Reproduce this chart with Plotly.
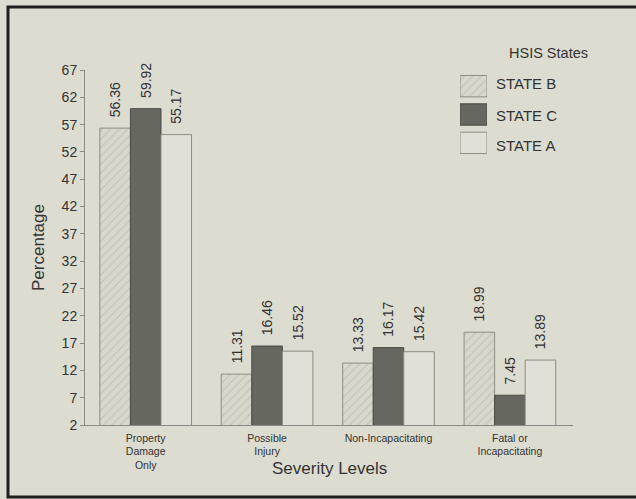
import plotly.graph_objects as go

# Crash severity distribution by state
categories = ["Property<br>Damage<br>Only", "Possible<br>Injury",
              "Non-Incapacitating", "Fatal or<br>Incapacitating"]
state_names = ["STATE B", "STATE C", "STATE A"]
state_b = [56.36, 11.31, 13.33, 18.99]
state_c = [59.92, 16.46, 16.17, 7.45]
state_a = [55.17, 15.52, 15.42, 13.89]
y_ticks = [2, 7, 12, 17, 22, 27, 32, 37, 42, 47, 52, 57, 62, 67]

BG = "#dddcd0"
TXT = "#333333"
FONT = "Liberation Sans, Arial, sans-serif"

styles = {
    "STATE B": dict(color="#d8d7cc", line=dict(color="#8e8d85", width=1),
                    pattern=dict(shape="/", fgcolor="#a9a89e", bgcolor="#d8d7cc",
                                 size=6, solidity=0.18)),
    "STATE C": dict(color="#66685f", line=dict(color="#4a4b45", width=1)),
    "STATE A": dict(color="#e1e0d6", line=dict(color="#8e8d85", width=1)),
}

fig = go.Figure()
for name, vals in zip(state_names, [state_b, state_c, state_a]):
    fig.add_trace(go.Bar(
        x=categories, y=vals, name=name, marker=styles[name],
        texttemplate="\u00a0\u00a0%{y:.2f}", textposition="outside",
        textangle=-90, constraintext="none",
        textfont=dict(size=14, color=TXT, family=FONT),
        cliponaxis=False, showlegend=False,
    ))

# Legend swatches on a small overlay axis
for name in state_names:
    fig.add_trace(go.Bar(
        x=[1], y=[name], orientation="h", marker=styles[name],
        xaxis="x2", yaxis="y2", showlegend=False, hoverinfo="skip",
    ))

W, H = 636, 499
L, R, T, B = 85, 63, 70, 74
pw, ph = W - L - R, H - T - B


def px_x(x):
    return (x - L) / pw


def px_y(y):
    return (H - B - y) / ph


annotations = [
    dict(text="HSIS States", x=548, y=53, font=dict(size=14.5)),
    dict(text="Severity Levels", x=329, y=468, font=dict(size=17)),
]
for name, yy in zip(state_names, [84, 115, 145]):
    annotations.append(dict(text=name, x=494, y=yy, xanchor="left",
                            font=dict(size=15)))

ann_list = []
for a in annotations:
    ann_list.append(dict(
        xref="paper", yref="paper", showarrow=False,
        x=px_x(a["x"]), y=px_y(a["y"]),
        xanchor=a.get("xanchor", "center"), yanchor="middle",
        text=a["text"], font=dict(family=FONT, color=TXT, **a["font"])))

fig.update_layout(
    width=W, height=H,
    margin=dict(l=L, r=R, t=T, b=B, autoexpand=False),
    paper_bgcolor=BG, plot_bgcolor=BG,
    barmode="group", bargap=0.245, bargroupgap=0,
    font=dict(family=FONT, color=TXT),
    xaxis=dict(
        range=[-0.5, 3.52], showgrid=False, zeroline=False,
        showline=True, linecolor="#8a8a84", linewidth=1,
        ticks="", ticklabelstandoff=3, tickfont=dict(size=10.5, color=TXT),
    ),
    yaxis=dict(
        range=[2, 67], tickvals=y_ticks, showgrid=False, zeroline=False,
        showline=True, linecolor="#8a8a84", linewidth=1,
        ticks="outside", ticklen=4, tickcolor="#8a8a84",
        tickfont=dict(size=14, color=TXT),
        title=dict(text="Percentage", font=dict(size=17, color=TXT), standoff=12),
    ),
    xaxis2=dict(domain=[px_x(460), px_x(487)], range=[0, 1], anchor="y2",
                visible=False, fixedrange=True),
    yaxis2=dict(domain=[px_y(157), px_y(72)], anchor="x2", visible=False,
                categoryorder="array", categoryarray=state_names[::-1],
                fixedrange=True),
    annotations=ann_list,
    shapes=[dict(type="rect", xref="paper", yref="paper",
                 x0=px_x(8), x1=px_x(660), y0=px_y(497), y1=px_y(7),
                 line=dict(color="#1e1e1e", width=3), layer="above")],
    showlegend=False,
)

fig.write_html("out.html")
